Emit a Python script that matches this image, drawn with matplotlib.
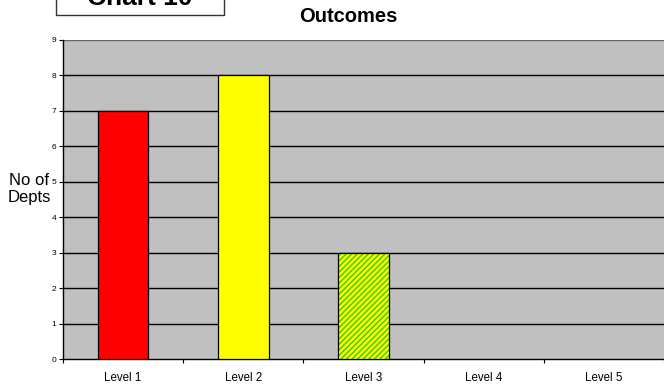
import matplotlib.pyplot as plt
from matplotlib.patches import Rectangle
import numpy as np

levels = ['Level 1', 'Level 2', 'Level 3', 'Level 4', 'Level 5']
depts = [7, 8, 3, 0, 0]
colours = ['#ff0000', '#ffff00', '#ccff00', '#c0c0c0', '#c0c0c0']
y_ticks = list(range(0, 10))


def main():
    fig = plt.figure(figsize=(6.64, 3.85), dpi=100)
    ax = fig.add_axes([63 / 664, 26 / 385, 601 / 664, 319 / 385])
    ax.set_facecolor('#c0c0c0')

    x = np.arange(len(levels))
    width = 0.42
    for i, (v, c) in enumerate(zip(depts, colours)):
        if v == 0:
            continue
        if i == 2:
            # hatched fill, outline drawn separately
            ax.bar(x[i], v, width, color='#ffff00', edgecolor='#33cc00',
                   hatch='//////', linewidth=0, zorder=3)
            ax.bar(x[i], v, width, fill=False, edgecolor='black',
                   linewidth=0.9, zorder=4)
        else:
            ax.bar(x[i], v, width, color=c, edgecolor='black',
                   linewidth=0.9, zorder=3)

    ax.set_xlim(-0.5, len(levels) - 0.5)
    ax.set_ylim(0, 9)
    ax.set_yticks(y_ticks)
    ax.set_yticklabels([str(t) for t in y_ticks], fontsize=6,
                       family='Liberation Sans')
    for t in y_ticks[1:]:
        ax.axhline(t, color='black' if t < 9 else '#666666',
                   linewidth=1.0, zorder=1)

    ax.set_xticks(np.arange(-0.5, len(levels), 1.0))
    ax.set_xticklabels([])
    ax.set_xticks(x, minor=True)
    ax.set_xticklabels(levels, minor=True, fontsize=8.3,
                       family='Liberation Sans')
    ax.tick_params(axis='x', which='minor', length=0, pad=9.5)
    ax.tick_params(axis='x', which='major', length=3, width=0.8)
    ax.tick_params(axis='y', length=3, width=0.8, pad=2)

    for s in ['top', 'right']:
        ax.spines[s].set_visible(False)
    ax.spines['left'].set_linewidth(1.0)
    ax.spines['bottom'].set_linewidth(1.0)

    fig.text(348 / 664, 1 - 16 / 385, 'Outcomes', fontsize=14.5,
             fontweight='bold', ha='center', va='center',
             family='Liberation Sans')
    fig.text(29 / 664, 1 - 189 / 385, 'No of\nDepts', fontsize=12,
             ha='center', va='center', family='Liberation Sans',
             linespacing=1.2)

    # boxed chart number at the top left, partly cut off
    fig.patches.append(Rectangle((56 / 664, 1 - 15 / 385), 168 / 664,
                                 40 / 385, transform=fig.transFigure,
                                 fill=False, edgecolor='#333333',
                                 linewidth=1.0))
    fig.text(140 / 664, 1 - 5 / 385, 'Chart 10', fontsize=19,
             fontweight='bold', ha='center', va='baseline',
             family='Liberation Sans')

    fig.savefig('out.png', dpi=100)


if __name__ == "__main__":
    main()
